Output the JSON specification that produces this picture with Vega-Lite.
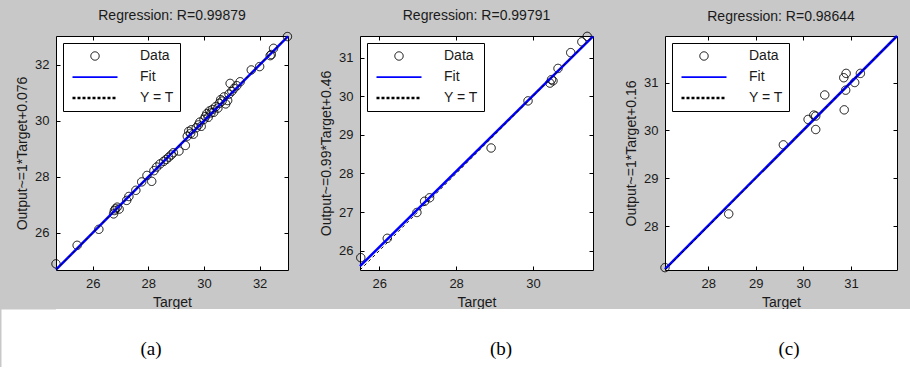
{
  "$schema": "https://vega.github.io/schema/vega-lite/v6.json",
  "background": "#c8c8c8",
  "padding": {"left": 0, "top": 8, "right": 0, "bottom": 0},
  "columns": 1,
  "align": "none",
  "spacing": -1,
  "config": {
    "font": "Liberation Sans",
    "view": {"fill": "white", "stroke": "black", "strokeWidth": 1},
    "axis": {
      "grid": false, "domain": false, "tickSize": -4, "tickColor": "black", "tickWidth": 1,
      "labelFont": "Liberation Sans", "labelFontSize": 13, "labelColor": "#1a1a1a", "labelPadding": 11,
      "titleFont": "Liberation Sans", "titleFontSize": 14, "titleFontWeight": "normal", "titleColor": "#1a1a1a",
      "titlePadding": 5, "titleLineHeight": 15
    },
    "axisBottom": {"titlePadding": 5},
    "title": {"font": "Liberation Sans", "fontSize": 14, "fontWeight": "normal", "color": "#1a1a1a", "offset": 7},
    "legend": {
      "orient": "top-left", "offset": 7, "padding": 6, "strokeColor": "black", "fillColor": "white",
      "labelFont": "Liberation Sans", "labelFontSize": 14, "labelColor": "#1a1a1a", "rowPadding": 7, "labelOffset": 38,
      "symbolOffset": 19, "symbolSize": 70, "cornerRadius": 0
    }
  },
  "datasets": {
    "a_pts": [
      {"t": 24.68, "o": 24.90, "series": "Data"}, {"t": 25.44, "o": 25.56, "series": "Data"},
      {"t": 26.22, "o": 26.13, "series": "Data"}, {"t": 26.75, "o": 26.68, "series": "Data"},
      {"t": 26.78, "o": 26.80, "series": "Data"}, {"t": 26.82, "o": 26.86, "series": "Data"},
      {"t": 26.88, "o": 26.92, "series": "Data"}, {"t": 26.95, "o": 26.85, "series": "Data"},
      {"t": 27.22, "o": 27.16, "series": "Data"}, {"t": 27.30, "o": 27.30, "series": "Data"},
      {"t": 27.55, "o": 27.52, "series": "Data"}, {"t": 27.76, "o": 27.82, "series": "Data"},
      {"t": 27.95, "o": 28.05, "series": "Data"}, {"t": 28.12, "o": 27.84, "series": "Data"},
      {"t": 28.20, "o": 28.22, "series": "Data"}, {"t": 28.30, "o": 28.35, "series": "Data"},
      {"t": 28.42, "o": 28.46, "series": "Data"}, {"t": 28.55, "o": 28.55, "series": "Data"},
      {"t": 28.64, "o": 28.62, "series": "Data"}, {"t": 28.73, "o": 28.70, "series": "Data"},
      {"t": 28.82, "o": 28.78, "series": "Data"}, {"t": 28.90, "o": 28.86, "series": "Data"},
      {"t": 29.10, "o": 28.92, "series": "Data"}, {"t": 29.33, "o": 29.12, "series": "Data"},
      {"t": 29.40, "o": 29.45, "series": "Data"}, {"t": 29.45, "o": 29.62, "series": "Data"},
      {"t": 29.52, "o": 29.55, "series": "Data"}, {"t": 29.55, "o": 29.68, "series": "Data"},
      {"t": 29.62, "o": 29.52, "series": "Data"}, {"t": 29.72, "o": 29.75, "series": "Data"},
      {"t": 29.80, "o": 29.85, "series": "Data"}, {"t": 29.85, "o": 29.95, "series": "Data"},
      {"t": 29.90, "o": 29.80, "series": "Data"}, {"t": 30.00, "o": 30.05, "series": "Data"},
      {"t": 30.05, "o": 30.15, "series": "Data"}, {"t": 30.10, "o": 30.25, "series": "Data"},
      {"t": 30.15, "o": 30.12, "series": "Data"}, {"t": 30.20, "o": 30.35, "series": "Data"},
      {"t": 30.25, "o": 30.28, "series": "Data"}, {"t": 30.30, "o": 30.40, "series": "Data"},
      {"t": 30.35, "o": 30.30, "series": "Data"}, {"t": 30.42, "o": 30.50, "series": "Data"},
      {"t": 30.50, "o": 30.45, "series": "Data"}, {"t": 30.55, "o": 30.62, "series": "Data"},
      {"t": 30.60, "o": 30.75, "series": "Data"}, {"t": 30.65, "o": 30.70, "series": "Data"},
      {"t": 30.72, "o": 30.85, "series": "Data"}, {"t": 30.78, "o": 30.60, "series": "Data"},
      {"t": 30.85, "o": 30.72, "series": "Data"}, {"t": 30.90, "o": 30.95, "series": "Data"},
      {"t": 30.94, "o": 31.33, "series": "Data"}, {"t": 31.00, "o": 31.05, "series": "Data"},
      {"t": 31.08, "o": 31.15, "series": "Data"}, {"t": 31.18, "o": 31.25, "series": "Data"},
      {"t": 31.30, "o": 31.39, "series": "Data"}, {"t": 31.70, "o": 31.81, "series": "Data"},
      {"t": 32.00, "o": 31.93, "series": "Data"}, {"t": 32.38, "o": 32.32, "series": "Data"},
      {"t": 32.42, "o": 32.36, "series": "Data"}, {"t": 32.50, "o": 32.58, "series": "Data"},
      {"t": 33.00, "o": 33.00, "series": "Data"}
    ],
    "a_fit": [{"t": 24.68, "o": 24.69}, {"t": 33.02, "o": 33.01}],
    "a_yt": [{"t": 24.68, "o": 24.68}, {"t": 33.02, "o": 33.02}],
    "b_pts": [
      {"t": 25.52, "o": 25.82, "series": "Data"}, {"t": 26.21, "o": 26.32, "series": "Data"},
      {"t": 26.98, "o": 26.99, "series": "Data"}, {"t": 27.18, "o": 27.28, "series": "Data"},
      {"t": 27.31, "o": 27.37, "series": "Data"}, {"t": 28.91, "o": 28.66, "series": "Data"},
      {"t": 29.87, "o": 29.88, "series": "Data"}, {"t": 30.44, "o": 30.34, "series": "Data"},
      {"t": 30.52, "o": 30.40, "series": "Data"}, {"t": 30.48, "o": 30.43, "series": "Data"},
      {"t": 30.65, "o": 30.72, "series": "Data"}, {"t": 30.98, "o": 31.13, "series": "Data"},
      {"t": 31.27, "o": 31.41, "series": "Data"}, {"t": 31.41, "o": 31.55, "series": "Data"}
    ],
    "b_fit": [{"t": 25.5, "o": 25.6}, {"t": 31.56, "o": 31.55}],
    "b_yt": [{"t": 25.5, "o": 25.5}, {"t": 31.56, "o": 31.56}],
    "c_pts": [
      {"t": 27.09, "o": 27.14, "series": "Data"}, {"t": 28.43, "o": 28.26, "series": "Data"},
      {"t": 29.58, "o": 29.70, "series": "Data"}, {"t": 30.10, "o": 30.23, "series": "Data"},
      {"t": 30.22, "o": 30.32, "series": "Data"}, {"t": 30.26, "o": 30.30, "series": "Data"},
      {"t": 30.26, "o": 30.02, "series": "Data"}, {"t": 30.45, "o": 30.74, "series": "Data"},
      {"t": 30.86, "o": 30.43, "series": "Data"}, {"t": 30.89, "o": 30.84, "series": "Data"},
      {"t": 30.85, "o": 31.10, "series": "Data"}, {"t": 30.90, "o": 31.19, "series": "Data"},
      {"t": 31.08, "o": 31.00, "series": "Data"}, {"t": 31.20, "o": 31.19, "series": "Data"}
    ],
    "c_fit": [{"t": 27.09, "o": 27.11}, {"t": 31.97, "o": 31.97}],
    "c_yt": [{"t": 27.09, "o": 27.09}, {"t": 31.97, "o": 31.97}],
    "cap_a": [{"caption": "(a)"}],
    "cap_b": [{"caption": "(b)"}],
    "cap_c": [{"caption": "(c)"}]
  },
  "concat": [
    {
      "hconcat": [
        {
          "width": 232, "height": 234,
          "title": "Regression: R=0.99879",
          "resolve": {"axis": {"x": "independent", "y": "independent"}},
          "layer": [
            {
              "data": {"name": "a_pts"},
              "mark": {"type": "point", "filled": false, "opacity": 1, "size": 70},
              "encoding": {
                "x": {"field": "t", "type": "quantitative", "scale": {"domain": [24.68, 33.02], "nice": false, "zero": false},
                      "axis": {"orient": "bottom", "values": [26, 28, 30, 32], "title": "Target"}},
                "y": {"field": "o", "type": "quantitative", "scale": {"domain": [24.68, 33.02], "nice": false, "zero": false},
                      "axis": {"orient": "left", "values": [26, 28, 30, 32], "title": ["", "Output~=1*Target+0.076"]}},
                "color": {"field": "series", "type": "nominal", "scale": {"domain": ["Data", "Fit", "Y = T"], "range": ["black", "#0000ff", "black"]}, "legend": {"title": null}},
                "shape": {"field": "series", "type": "nominal", "scale": {"domain": ["Data", "Fit", "Y = T"], "range": ["circle", "M-5.38,0H5.38", "M-5.38,0H5.38"]}, "legend": {"title": null}},
                "strokeDash": {"field": "series", "type": "nominal", "scale": {"domain": ["Data", "Fit", "Y = T"], "range": [[1, 0], [1, 0], [3, 2]]}, "legend": {"title": null}},
                "strokeWidth": {"field": "series", "type": "nominal", "scale": {"domain": ["Data", "Fit", "Y = T"], "range": [1, 2.5, 1]}, "legend": {"title": null}}
              }
            },
            {
              "data": {"name": "a_fit"},
              "mark": {"type": "line", "color": "#0000ff", "strokeWidth": 2.5},
              "encoding": {
                "x": {"field": "t", "type": "quantitative", "axis": {"orient": "top", "values": [26, 28, 30, 32], "labels": false, "title": null}},
                "y": {"field": "o", "type": "quantitative", "axis": {"orient": "right", "values": [26, 28, 30, 32], "labels": false, "title": null}}
              }
            },
            {
              "data": {"name": "a_yt"},
              "mark": {"type": "line", "color": "black", "strokeWidth": 1, "strokeDash": [3, 3]},
              "encoding": {
                "x": {"field": "t", "type": "quantitative", "axis": null},
                "y": {"field": "o", "type": "quantitative", "axis": null}
              }
            }
          ]
        },
        {
          "width": 233, "height": 234,
          "title": "Regression: R=0.99791",
          "resolve": {"axis": {"x": "independent", "y": "independent"}},
          "layer": [
            {
              "data": {"name": "b_pts"},
              "mark": {"type": "point", "filled": false, "opacity": 1, "size": 70},
              "encoding": {
                "x": {"field": "t", "type": "quantitative", "scale": {"domain": [25.5, 31.56], "nice": false, "zero": false},
                      "axis": {"orient": "bottom", "values": [26, 28, 30], "title": "Target"}},
                "y": {"field": "o", "type": "quantitative", "scale": {"domain": [25.5, 31.56], "nice": false, "zero": false},
                      "axis": {"orient": "left", "values": [26, 27, 28, 29, 30, 31], "title": "Output~=0.99*Target+0.46"}},
                "color": {"field": "series", "type": "nominal", "scale": {"domain": ["Data", "Fit", "Y = T"], "range": ["black", "#0000ff", "black"]}, "legend": {"title": null}},
                "shape": {"field": "series", "type": "nominal", "scale": {"domain": ["Data", "Fit", "Y = T"], "range": ["circle", "M-5.38,0H5.38", "M-5.38,0H5.38"]}, "legend": {"title": null}},
                "strokeDash": {"field": "series", "type": "nominal", "scale": {"domain": ["Data", "Fit", "Y = T"], "range": [[1, 0], [1, 0], [3, 2]]}, "legend": {"title": null}},
                "strokeWidth": {"field": "series", "type": "nominal", "scale": {"domain": ["Data", "Fit", "Y = T"], "range": [1, 2.5, 1]}, "legend": {"title": null}}
              }
            },
            {
              "data": {"name": "b_fit"},
              "mark": {"type": "line", "color": "#0000ff", "strokeWidth": 2.5},
              "encoding": {
                "x": {"field": "t", "type": "quantitative", "axis": {"orient": "top", "values": [26, 28, 30], "labels": false, "title": null}},
                "y": {"field": "o", "type": "quantitative", "axis": {"orient": "right", "values": [26, 27, 28, 29, 30, 31], "labels": false, "title": null}}
              }
            },
            {
              "data": {"name": "b_yt"},
              "mark": {"type": "line", "color": "black", "strokeWidth": 1, "strokeDash": [3, 3]},
              "encoding": {
                "x": {"field": "t", "type": "quantitative", "axis": null},
                "y": {"field": "o", "type": "quantitative", "axis": null}
              }
            }
          ]
        },
        {
          "width": 232, "height": 234,
          "title": "Regression: R=0.98644",
          "resolve": {"axis": {"x": "independent", "y": "independent"}},
          "layer": [
            {
              "data": {"name": "c_pts"},
              "mark": {"type": "point", "filled": false, "opacity": 1, "size": 70},
              "encoding": {
                "x": {"field": "t", "type": "quantitative", "scale": {"domain": [27.09, 31.97], "nice": false, "zero": false},
                      "axis": {"orient": "bottom", "values": [28, 29, 30, 31], "title": "Target"}},
                "y": {"field": "o", "type": "quantitative", "scale": {"domain": [27.09, 31.97], "nice": false, "zero": false},
                      "axis": {"orient": "left", "values": [28, 29, 30, 31], "title": "Output~=1*Target+0.16"}},
                "color": {"field": "series", "type": "nominal", "scale": {"domain": ["Data", "Fit", "Y = T"], "range": ["black", "#0000ff", "black"]}, "legend": {"title": null}},
                "shape": {"field": "series", "type": "nominal", "scale": {"domain": ["Data", "Fit", "Y = T"], "range": ["circle", "M-5.38,0H5.38", "M-5.38,0H5.38"]}, "legend": {"title": null}},
                "strokeDash": {"field": "series", "type": "nominal", "scale": {"domain": ["Data", "Fit", "Y = T"], "range": [[1, 0], [1, 0], [3, 2]]}, "legend": {"title": null}},
                "strokeWidth": {"field": "series", "type": "nominal", "scale": {"domain": ["Data", "Fit", "Y = T"], "range": [1, 2.5, 1]}, "legend": {"title": null}}
              }
            },
            {
              "data": {"name": "c_fit"},
              "mark": {"type": "line", "color": "#0000ff", "strokeWidth": 2.5},
              "encoding": {
                "x": {"field": "t", "type": "quantitative", "axis": {"orient": "top", "values": [28, 29, 30, 31], "labels": false, "title": null}},
                "y": {"field": "o", "type": "quantitative", "axis": {"orient": "right", "values": [28, 29, 30, 31], "labels": false, "title": null}}
              }
            },
            {
              "data": {"name": "c_yt"},
              "mark": {"type": "line", "color": "black", "strokeWidth": 1, "strokeDash": [3, 3]},
              "encoding": {
                "x": {"field": "t", "type": "quantitative", "axis": null},
                "y": {"field": "o", "type": "quantitative", "axis": null}
              }
            }
          ]
        }
      ],
      "spacing": 72,
      "bounds": "flush",
      "resolve": {"scale": {"color": "independent", "shape": "independent", "strokeDash": "independent", "strokeWidth": "independent"}}
    },
    {
      "hconcat": [
        {
          "width": 245, "height": 58, "view": {"fill": "white", "stroke": null},
          "data": {"name": "cap_a"},
          "mark": {"type": "text", "font": "Liberation Serif", "fontSize": 19, "color": "black", "dy": 11, "dx": -27.5},
          "encoding": {
            "text": {"field": "caption", "type": "nominal"},
            "y": {"field": "caption", "type": "nominal",
                  "axis": {"domain": true, "domainWidth": 110, "domainColor": "white", "ticks": false, "labels": false, "title": null}}
          }
        },
        {
          "width": 400, "height": 58, "view": {"fill": "white", "stroke": null},
          "data": {"name": "cap_b"},
          "mark": {"type": "text", "font": "Liberation Serif", "fontSize": 19, "color": "black", "dy": 11},
          "encoding": {"text": {"field": "caption", "type": "nominal"}}
        },
        {
          "width": 210, "height": 58, "view": {"fill": "white", "stroke": null},
          "data": {"name": "cap_c"},
          "mark": {"type": "text", "font": "Liberation Serif", "fontSize": 19, "color": "black", "dy": 11, "dx": -17},
          "encoding": {"text": {"field": "caption", "type": "nominal"}}
        }
      ],
      "spacing": 0
    }
  ]
}
